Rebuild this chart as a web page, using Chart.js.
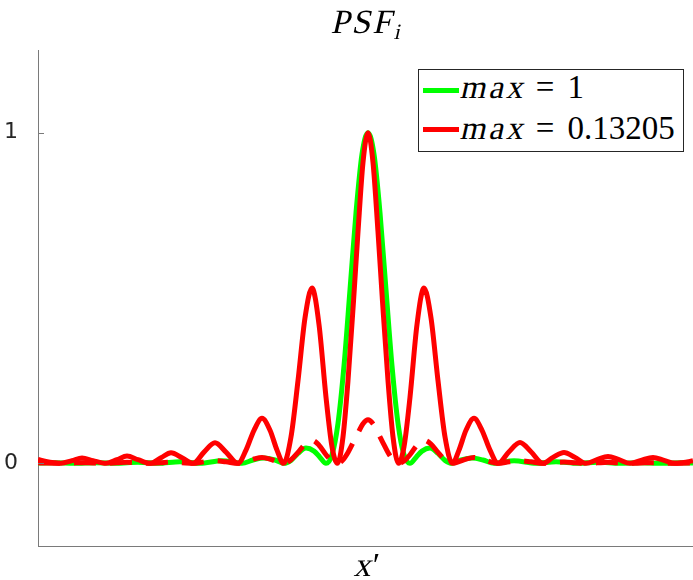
<!DOCTYPE html>
<html>
<head>
<meta charset="utf-8">
<script src="https://cdn.jsdelivr.net/npm/chart.js@4"></script>
<style>
  html, body { margin: 0; padding: 0; background: #fff; overflow: hidden; }
  #wrap { position: relative; width: 693px; height: 580px; }
  #chart { position: absolute; left: 0; top: 0; }
  .tex { position: absolute; font-family: "Liberation Serif", "Times New Roman", serif; color: #000; white-space: nowrap; }
  .it { display: inline-block; transform: skewX(-13deg); font-style: normal; }
  #title { left: 268px; width: 200px; top: 5px; text-align: center; font-size: 34px; line-height: 34px; }
  #title .it { letter-spacing: 2px; }
  #title sub { font-size: 22px; vertical-align: -6px; line-height: 0; }
  #xlabel { left: 318px; width: 100px; top: 548px; text-align: center; font-size: 34px; line-height: 34px; }
  #legend { position: absolute; left: 418px; top: 69px; width: 266px; height: 83px; box-sizing: border-box;
            border: 1px solid #262626; background: #fff; }
  .sw { position: absolute; left: 4px; width: 36px; height: 5px; }
  .lt { position: absolute; left: 43px; font-size: 33px; line-height: 32px; }
  .lt .it { letter-spacing: 3px; }
  .lt .eq { margin: 0 13px 0 8px; }
</style>
</head>
<body>
<div id="wrap">
  <canvas id="chart" width="693" height="580"></canvas>
  <div id="title" class="tex"><span class="it">PSF</span><sub class="it">i</sub></div>
  <div id="xlabel" class="tex"><span class="it">x</span>′</div>
  <div id="legend">
    <div class="sw" style="top:18px;background:#00ff00"></div>
    <div class="tex lt" style="top:1px"><span class="it">max</span><span class="eq">=</span>1</div>
    <div class="sw" style="top:57px;background:#ff0000"></div>
    <div class="tex lt" style="top:42px"><span class="it">max</span><span class="eq">=</span>0.13205</div>
  </div>
</div>
<script>
// x' positions (arbitrary units, 0 = centre of the peak)
const xGreen = [-330, -314, -294, -272, -252, -230, -210, -188, -168, -146, -126, -115, -104, -93, -84, -77, -70, -62, -54, -48, -42,
  -36, -30, -24, -18, -12, -6, 0, 6, 12, 18, 24, 30, 36,
  42, 48, 54, 62, 70, 77, 84, 93, 104, 115, 126, 146, 168, 188, 210, 230, 252, 272, 294, 314, 325];
const green = [0.001, 0.0015, 0, 0.002, 0, 0.003, 0, 0.005, 0, 0.008, 0, 0.01, 0.016, 0.01, 0, 0.009, 0.03, 0.046, 0.037, 0.018, 0,
  0.026, 0.121, 0.295, 0.525, 0.758, 0.935, 1, 0.935, 0.758, 0.525, 0.295, 0.121, 0.026,
  0, 0.018, 0.037, 0.046, 0.03, 0.009, 0, 0.01, 0.016, 0.01, 0, 0.008, 0, 0.005, 0, 0.003, 0, 0.002, 0, 0.0015, 0.001];

const xRed = [-330, -322, -314, -307, -296, -286, -275, -262, -251, -241, -230, -218, -207, -197, -186, -175,
  -164, -153, -142, -130, -122, -114, -106, -98, -91, -84.5, -77, -70, -63, -56, -49, -42, -36, -30.5,
  -25, -20, -14.5, -10, -5, 0, 5, 10, 14.5, 20, 25,
  30.5, 36, 42, 49, 56, 63, 70, 77, 84.5, 91, 98, 106, 114, 122, 130, 141, 152, 163, 175,
  185, 196, 207, 218, 229, 240, 251, 262, 273, 285, 296, 307, 314, 322, 325];
// normalised red curve (solid)
const red = [0.012, 0.006, 0.002, 0, 0.008, 0.016, 0.008, 0, 0.011, 0.022, 0.011, 0, 0.017, 0.032, 0.017, 0,
  0.034, 0.062, 0.034, 0, 0.04, 0.1, 0.136, 0.1, 0.04, 0, 0.08, 0.25, 0.44, 0.53, 0.42, 0.2, 0.05, 0,
  0.08, 0.25, 0.49, 0.7, 0.91, 1, 0.91, 0.7, 0.49, 0.25, 0.08,
  0, 0.05, 0.2, 0.42, 0.53, 0.44, 0.25, 0.08, 0, 0.04, 0.1, 0.136, 0.1, 0.04, 0, 0.035, 0.063, 0.035, 0,
  0.018, 0.033, 0.018, 0, 0.011, 0.021, 0.011, 0, 0.009, 0.018, 0.009, 0, 0.002, 0.006, 0.008];
// same red curve before normalisation (dashed)
const redRaw = [0.0016, 0.0008, 0.0003, 0, 0.001, 0.002, 0.001, 0, 0.0015, 0.003, 0.0015, 0, 0.002, 0.004, 0.002, 0,
  0.0045, 0.008, 0.0045, 0, 0.005, 0.013, 0.018, 0.013, 0.005, 0, 0.011, 0.033, 0.058, 0.07, 0.055, 0.026, 0.007, 0,
  0.011, 0.033, 0.065, 0.092, 0.12, 0.132, 0.12, 0.092, 0.065, 0.033, 0.011,
  0, 0.007, 0.026, 0.055, 0.07, 0.058, 0.033, 0.011, 0, 0.005, 0.013, 0.018, 0.013, 0.005, 0, 0.0045, 0.008, 0.0045, 0,
  0.002, 0.004, 0.002, 0, 0.0015, 0.003, 0.0015, 0, 0.001, 0.002, 0.001, 0, 0.0003, 0.0008, 0.001];

const yTicks = [0, 1];
const axisColor = '#7a7a7a';

const pts = (xs, ys) => xs.map((x, i) => ({ x: x, y: ys[i] }));

// MATLAB style ticks pointing into the plot
const inwardTicks = {
  id: 'inwardTicks',
  afterDraw(chart) {
    const sc = chart.scales.y, ctx = chart.ctx;
    ctx.save();
    ctx.strokeStyle = axisColor;
    ctx.lineWidth = 1;
    yTicks.forEach(v => {
      const py = Math.round(sc.getPixelForValue(v)) + 0.5;
      ctx.beginPath();
      ctx.moveTo(sc.right, py);
      ctx.lineTo(sc.right + 6, py);
      ctx.stroke();
    });
    ctx.restore();
  }
};

new Chart(document.getElementById('chart'), {
  type: 'line',
  data: {
    datasets: [
      { data: pts(xRed, red), borderColor: '#ff0000', borderWidth: 5 },
      { data: pts(xRed, redRaw), borderColor: '#ff0000', borderWidth: 5, borderDash: [22, 14] },
      { data: pts(xGreen, green), borderColor: '#00ff00', borderWidth: 5 }
    ]
  },
  options: {
    responsive: false,
    animation: false,
    layout: { padding: { top: 50, bottom: 34, left: 0, right: 0 } },
    elements: { point: { radius: 0 }, line: { cubicInterpolationMode: 'monotone' } },
    plugins: { legend: { display: false }, tooltip: { enabled: false } },
    scales: {
      x: {
        type: 'linear', min: -330, max: 325,
        ticks: { display: false },
        grid: { display: false },
        border: { display: true, color: axisColor, width: 1 },
        afterFit: s => { s.height = 0; }
      },
      y: {
        min: -0.25, max: 1.25,
        afterBuildTicks: s => { s.ticks = yTicks.map(v => ({ value: v })); },
        ticks: { padding: 12, color: '#262626', font: { family: 'DejaVu Sans', size: 22 } },
        grid: { display: false },
        border: { display: true, color: axisColor, width: 1 },
        afterFit: s => { s.width = 38; }
      }
    }
  },
  plugins: [inwardTicks]
});
</script>
</body>
</html>
